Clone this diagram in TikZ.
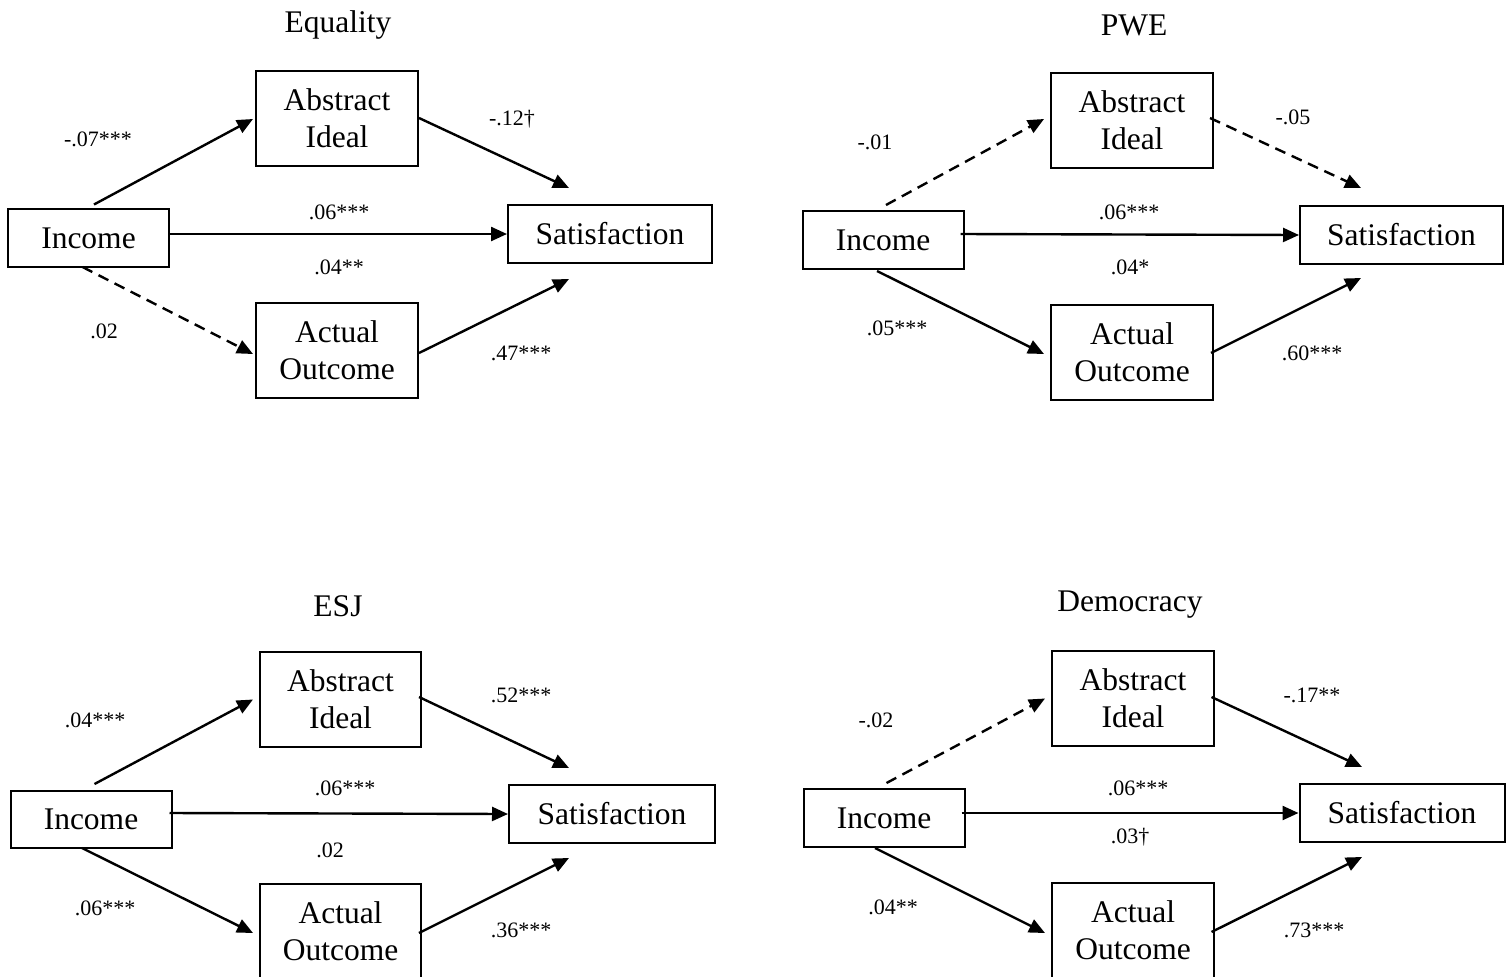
\documentclass[tikz,border=0pt]{standalone}
\usepackage{fontspec}
\setmainfont{Liberation Serif}
\usetikzlibrary{arrows.meta}

\begin{document}
\begin{tikzpicture}[x=1pt,y=-1pt,
  varbox/.style={draw, line width=2pt, inner sep=0pt, align=center,
    font=\fontsize{31.5}{37}\selectfont},
  midbox/.style={varbox, minimum width=162pt, minimum height=95pt},
  incbox/.style={varbox, minimum width=161pt, minimum height=58pt},
  satbox/.style={varbox, minimum width=204pt, minimum height=58pt},
  paneltitle/.style={font=\fontsize{31.5}{36}\selectfont},
  coef/.style={font=\fontsize{22}{26}\selectfont},
  path/.style={line width=2.4pt, -{Triangle[length=16pt,width=14pt]}},
  nspath/.style={path, dash pattern=on 11pt off 7pt},
]
\useasboundingbox (0,0) rectangle (1507,977);
\clip (0,0) rectangle (1507,977);
\fill[white] (0,0) rectangle (1507,977);

% ---------- Equality ----------
\node[paneltitle] (t1) at (338,25) {Equality};
\node[midbox] (abs1) at (337,118) {Abstract\\Ideal};
\node[incbox] (inc1) at (88.5,238) {Income};
\node[satbox] (sat1) at (610,234) {Satisfaction};
\node[midbox] (act1) at (337,350) {Actual\\Outcome};
\coordinate (s1a) at (569,188);
\coordinate (s1b) at (569,279);
\draw[path]   ([shift={(5.5,-3.5)}]inc1.north) -- ([shift={(-2,1)}]abs1.west);
\draw[path]   (abs1.east) -- (s1a);
\draw[path]   ([shift={(0,-4)}]inc1.east) -- (sat1.west);
\draw[nspath] ([shift={(-6,-1)}]inc1.south) -- ([shift={(-2,4)}]act1.west);
\draw[path]   ([shift={(0,3)}]act1.east) -- (s1b);
\node[coef] (c1a) at (98,139) {-.07***};
\node[coef] (c1b) at (512,119) {-.12†};
\node[coef] (c1c) at (339,212) {.06***};
\node[coef] (c1d) at (339,267) {.04**};
\node[coef] (c1e) at (104,331) {.02};
\node[coef] (c1f) at (521,353) {.47***};

% ---------- PWE ----------
\node[paneltitle] (t2) at (1134,25) {PWE};
\node[midbox] (abs2) at (1132,120) {Abstract\\Ideal};
\node[incbox] (inc2) at (883,240) {Income};
\node[satbox, minimum width=203pt] (sat2) at (1401.5,235) {Satisfaction};
\node[midbox] (act2) at (1132,352) {Actual\\Outcome};
\coordinate (s2a) at (1361,188);
\coordinate (s2b) at (1361,278);
\draw[nspath] ([shift={(3,-5)}]inc2.north) -- ([shift={(-6,-1)}]abs2.west);
\draw[nspath] ([shift={(-4,-2)}]abs2.east) -- (s2a);
\draw[path]   ([shift={(-4,-6)}]inc2.east) -- (sat2.west);
\draw[path]   ([shift={(-6,1)}]inc2.south) -- ([shift={(-6,2)}]act2.west);
\draw[path]   ([shift={(-3,1)}]act2.east) -- (s2b);
\node[coef] (c2a) at (875,142) {-.01};
\node[coef] (c2b) at (1293,117) {-.05};
\node[coef] (c2c) at (1129,212) {.06***};
\node[coef] (c2d) at (1130,267) {.04*};
\node[coef] (c2e) at (897,328) {.05***};
\node[coef] (c2f) at (1312,353) {.60***};

% ---------- ESJ ----------
\node[paneltitle] (t3) at (338,606) {ESJ};
\node[midbox, minimum width=161pt] (abs3) at (340.5,699.5) {Abstract\\Ideal};
\node[incbox, minimum height=57pt] (inc3) at (91,819.5) {Income};
\node[satbox, minimum width=206pt] (sat3) at (612,814) {Satisfaction};
\node[midbox, minimum width=161pt] (act3) at (340.5,931.5) {Actual\\Outcome};
\coordinate (s3a) at (569,768);
\coordinate (s3b) at (569,858);
\draw[path] ([shift={(3.5,-6)}]inc3.north) -- ([shift={(-6,0)}]abs3.west);
\draw[path] ([shift={(-3,-2.5)}]abs3.east) -- (s3a);
\draw[path] ([shift={(-3,-6.5)}]inc3.east) -- (sat3.west);
\draw[path] ([shift={(-9,-1)}]inc3.south) -- ([shift={(-6,1.5)}]act3.west);
\draw[path] ([shift={(-3,1.5)}]act3.east) -- (s3b);
\node[coef] (c3a) at (95,720) {.04***};
\node[coef] (c3b) at (521,695) {.52***};
\node[coef] (c3c) at (345,788) {.06***};
\node[coef] (c3d) at (330,850) {.02};
\node[coef] (c3e) at (105,908) {.06***};
\node[coef] (c3f) at (521,930) {.36***};

% ---------- Democracy ----------
\node[paneltitle] (t4) at (1130,605) {Democracy};
\node[midbox] (abs4) at (1133,698.5) {Abstract\\Ideal};
\node[incbox] (inc4) at (884,818) {Income};
\node[satbox, minimum width=205pt] (sat4) at (1402,813) {Satisfaction};
\node[midbox] (act4) at (1133,930.5) {Actual\\Outcome};
\coordinate (s4a) at (1362,767);
\coordinate (s4b) at (1362,857);
\draw[nspath] ([shift={(2.5,-5)}]inc4.north) -- ([shift={(-6,0)}]abs4.west);
\draw[path]   ([shift={(-3.5,-1.5)}]abs4.east) -- (s4a);
\draw[path]   ([shift={(-4,-5)}]inc4.east) -- (sat4.west);
\draw[path]   ([shift={(-9,0)}]inc4.south) -- ([shift={(-6,2.5)}]act4.west);
\draw[path]   ([shift={(-3.5,1.5)}]act4.east) -- (s4b);
\node[coef] (c4a) at (876,720) {-.02};
\node[coef] (c4b) at (1312,695) {-.17**};
\node[coef] (c4c) at (1138,788) {.06***};
\node[coef] (c4d) at (1130,837) {.03†};
\node[coef] (c4e) at (893,907) {.04**};
\node[coef] (c4f) at (1314,930) {.73***};
\end{tikzpicture}
\end{document}
